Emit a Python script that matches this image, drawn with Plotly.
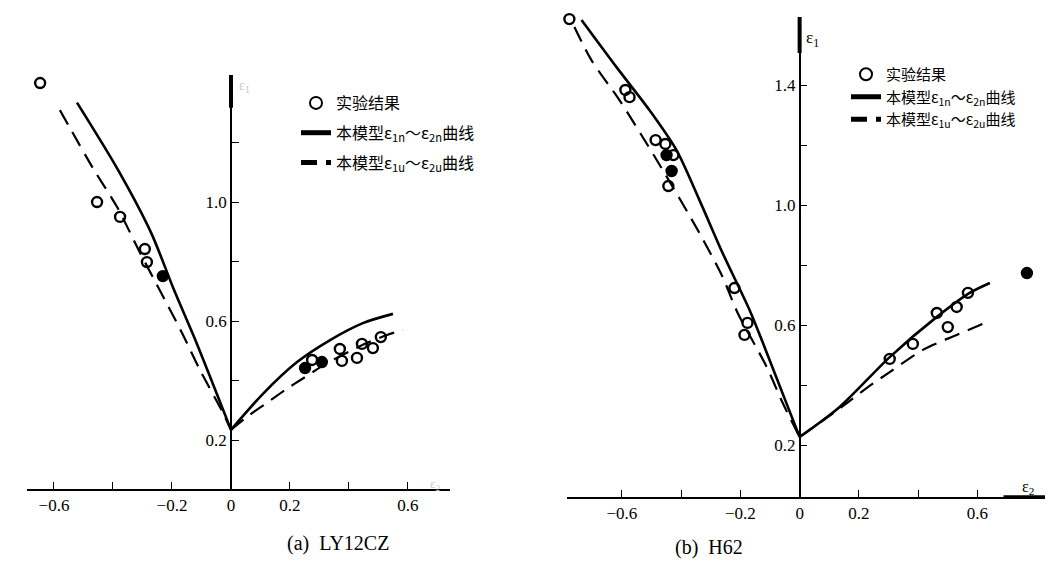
import plotly.graph_objects as go

W, H = 1057, 572

# ---------------- data: panel (a) LY12CZ ----------------
a_exp_x = [-0.647, -0.454, -0.376, -0.292, -0.285, -0.231,
           0.251, 0.275, 0.308, 0.369, 0.376, 0.427, 0.444, 0.481, 0.508]
a_exp_y = [1.400, 1.000, 0.950, 0.842, 0.798, 0.751,
           0.442, 0.469, 0.462, 0.506, 0.466, 0.476, 0.523, 0.509, 0.546]
a_exp_filled = [0, 0, 0, 0, 0, 1, 1, 0, 1, 0, 0, 0, 0, 0, 0]

a_solid_left_x = [-0.522, -0.383, -0.271, -0.193, -0.125, 0.0]
a_solid_left_y = [1.334, 1.108, 0.897, 0.704, 0.546, 0.234]
a_solid_right_x = [0.0, 0.110, 0.224, 0.336, 0.447, 0.549]
a_solid_right_y = [0.234, 0.357, 0.462, 0.536, 0.593, 0.624]

a_dash_left_x = [-0.580, -0.468, -0.386, -0.308, -0.166, -0.105, -0.027, 0.0]
a_dash_left_y = [1.309, 1.114, 0.983, 0.829, 0.560, 0.435, 0.291, 0.234]
a_dash_right_x = [0.0, 0.064, 0.122, 0.183, 0.241, 0.325, 0.447, 0.529, 0.583]
a_dash_right_y = [0.234, 0.285, 0.325, 0.368, 0.405, 0.458, 0.520, 0.553, 0.570]

# ---------------- data: panel (b) H62 ----------------
b_exp_x = [-0.777, -0.588, -0.574, -0.486, -0.453, -0.449, -0.426, -0.432, -0.443,
           -0.220, -0.176, -0.186, 0.304, 0.382, 0.463, 0.500, 0.530, 0.568, 0.767]
b_exp_y = [1.620, 1.384, 1.360, 1.217, 1.204, 1.167, 1.167, 1.114, 1.064,
           0.724, 0.608, 0.568, 0.488, 0.538, 0.641, 0.594, 0.661, 0.708, 0.774]
b_exp_filled = [0, 0, 0, 0, 0, 1, 0, 1, 0, 0, 0, 0, 0, 0, 0, 0, 0, 0, 1]

b_solid_left_x = [-0.736, -0.618, -0.507, -0.416, -0.338, -0.260, -0.169, -0.125, -0.044, 0.0]
b_solid_left_y = [1.617, 1.460, 1.317, 1.184, 1.017, 0.841, 0.651, 0.544, 0.339, 0.228]
b_solid_right_x = [0.0, 0.135, 0.304, 0.463, 0.574, 0.642]
b_solid_right_y = [0.228, 0.328, 0.494, 0.628, 0.708, 0.741]

b_dash_left_x = [-0.760, -0.703, -0.608, -0.534, -0.466, -0.338, -0.260, -0.209, -0.111, -0.057, 0.0]
b_dash_left_y = [1.594, 1.484, 1.350, 1.234, 1.124, 0.907, 0.761, 0.641, 0.461, 0.341, 0.228]
b_dash_right_x = [0.0, 0.142, 0.226, 0.304, 0.416, 0.530, 0.625]
b_dash_right_y = [0.228, 0.328, 0.391, 0.444, 0.518, 0.568, 0.608]

# ticks / labels
x_tickvals = [-0.6, -0.2, 0.0, 0.2, 0.6]
x_ticktext = ["−0.6", "−0.2", "0", "0.2", "0.6"]
x_minorvals = [-0.4, 0.4]
a_y_tickvals = [0.2, 0.6, 1.0]
a_y_ticktext = ["0.2", "0.6", "1.0"]
a_y_minorvals = [0.4, 0.8, 1.2]
b_y_tickvals = [0.2, 0.6, 1.0, 1.4]
b_y_ticktext = ["0.2", "0.6", "1.0", "1.4"]
b_y_minorvals = [0.4, 0.8, 1.2]

leg_exp = "实验结果"
leg_solid = "本模型ε<sub>1n</sub>～ε<sub>2n</sub>曲线"
leg_dash = "本模型ε<sub>1u</sub>～ε<sub>2u</sub>曲线"
cap_a = "(a)  LY12CZ"
cap_b = "(b)  H62"

# ---------------- layout geometry ----------------
a_xrange = [-0.6915, 0.7424]
a_yrange = [0.0353, 1.427]
b_xrange = [-0.785, 0.828]
b_yrange = [0.028, 1.627]
a_xdom = [27 / W, 450 / W]
a_ydom = [1 - 489 / H, 1 - 75 / H]
b_xdom = [567 / W, 1045 / W]
b_ydom = [1 - 497 / H, 1 - 17 / H]


def zero_pos(dom, rng):
    return dom[0] + (0 - rng[0]) / (rng[1] - rng[0]) * (dom[1] - dom[0])


SERIF = "Liberation Serif, DejaVu Serif, serif"
CJK = "Noto Sans CJK SC, sans-serif"

fig = go.Figure()


def join(lx, ly, rx, ry):
    return lx + [None] + rx, ly + [None] + ry


def add_panel(xa, ya, legend, ex, ey, ef, slx, sly, srx, sry, dlx, dly, drx, dry):
    sx, sy = join(slx, sly, srx, sry)
    dx, dy = join(dlx, dly, drx, dry)
    symbols = ["circle" if f else "circle-open" for f in ef]
    fig.add_trace(go.Scatter(
        x=ex, y=ey, mode="markers", name=leg_exp, xaxis=xa, yaxis=ya, legend=legend,
        cliponaxis=False,
        marker=dict(symbol=symbols, size=10, color="black", line=dict(width=2.4, color="black")),
    ))
    fig.add_trace(go.Scatter(
        x=sx, y=sy, mode="lines", name=leg_solid, xaxis=xa, yaxis=ya, legend=legend,
        line=dict(color="black", width=2.6, shape="spline", smoothing=0.8), connectgaps=False,
    ))
    fig.add_trace(go.Scatter(
        x=dx, y=dy, mode="lines", name=leg_dash, xaxis=xa, yaxis=ya, legend=legend,
        line=dict(color="black", width=2.2, dash="16px,9px", shape="spline", smoothing=0.8),
        connectgaps=False,
    ))


add_panel("x", "y", "legend", a_exp_x, a_exp_y, a_exp_filled,
          a_solid_left_x, a_solid_left_y, a_solid_right_x, a_solid_right_y,
          a_dash_left_x, a_dash_left_y, a_dash_right_x, a_dash_right_y)
add_panel("x2", "y2", "legend2", b_exp_x, b_exp_y, b_exp_filled,
          b_solid_left_x, b_solid_left_y, b_solid_right_x, b_solid_right_y,
          b_dash_left_x, b_dash_left_y, b_dash_right_x, b_dash_right_y)

tick_style = dict(ticks="inside", ticklen=7, tickwidth=1.4, tickcolor="black")
xcommon = dict(showline=True, linecolor="black", linewidth=1.6, showgrid=False, zeroline=False,
               tickmode="array", tickvals=x_tickvals, ticktext=x_ticktext,
               minor=dict(tickmode="array", tickvals=x_minorvals, showgrid=False, **tick_style),
               tickfont=dict(family=SERIF, size=17, color="black"), **tick_style)
ycommon = dict(showline=True, linecolor="black", linewidth=1.6, showgrid=False, zeroline=False,
               anchor="free", side="left", tickmode="array",
               tickfont=dict(family=SERIF, size=17, color="black"), **tick_style)

fig.update_layout(
    width=W, height=H, margin=dict(l=0, r=0, t=0, b=0),
    paper_bgcolor="white", plot_bgcolor="white",
    xaxis=dict(domain=a_xdom, range=a_xrange, anchor="y", **xcommon),
    yaxis=dict(domain=a_ydom, range=a_yrange, position=zero_pos(a_xdom, a_xrange),
               tickvals=a_y_tickvals, ticktext=a_y_ticktext,
               minor=dict(tickmode="array", tickvals=a_y_minorvals, showgrid=False, **tick_style),
               **ycommon),
    xaxis2=dict(domain=b_xdom, range=b_xrange, anchor="y2", **xcommon),
    yaxis2=dict(domain=b_ydom, range=b_yrange, position=zero_pos(b_xdom, b_xrange),
                tickvals=b_y_tickvals, ticktext=b_y_ticktext,
                minor=dict(tickmode="array", tickvals=b_y_minorvals, showgrid=False, **tick_style),
                **ycommon),
    legend=dict(x=296 / W, y=1 - 86 / H, xanchor="left", yanchor="top",
                bgcolor="rgba(0,0,0,0)", font=dict(family=CJK, size=16, color="black"),
                tracegroupgap=6, itemsizing="constant"),
    legend2=dict(x=846 / W, y=1 - 58 / H, xanchor="left", yanchor="top",
                 bgcolor="rgba(0,0,0,0)", font=dict(family=CJK, size=15, color="black"),
                 tracegroupgap=0, itemsizing="constant"),
    showlegend=True,
)

# each legend item in its own group so the gap between items can be set
for i, tr in enumerate(fig.data):
    tr.legendgroup = "g%d" % i

# axis-end arrows (thick segments at the ends of the axes)
fig.add_shape(type="line", xref="x", yref="y", x0=0, x1=0,
              y0=a_yrange[1] - 0.11, y1=a_yrange[1], line=dict(color="black", width=4))
fig.add_shape(type="line", xref="x2", yref="y2", x0=0, x1=0,
              y0=b_yrange[1] - 0.12, y1=b_yrange[1], line=dict(color="black", width=4))
fig.add_shape(type="line", xref="x2", yref="y2", x0=b_xrange[1] - 0.14, x1=b_xrange[1],
              y0=b_yrange[0], y1=b_yrange[0], line=dict(color="black", width=3.5))

# axis titles
fig.add_annotation(x=0, y=1.555, xref="x2", yref="y2", text="ε<sub>1</sub>", showarrow=False,
                   xanchor="left", xshift=4, font=dict(family=SERIF, size=17, color="black"))
fig.add_annotation(x=0.77, y=0.06, xref="x2", yref="y2", text="ε<sub>2</sub>", showarrow=False,
                   font=dict(family=SERIF, size=16, color="black"))
fig.add_annotation(x=0, y=1.39, xref="x", yref="y", text="ε<sub>1</sub>", showarrow=False,
                   xanchor="left", xshift=6, font=dict(family=SERIF, size=14, color="#c8c8c8"))
fig.add_annotation(x=0.69, y=0.05, xref="x", yref="y", text="ε<sub>2</sub>", showarrow=False,
                   font=dict(family=SERIF, size=13, color="#c8c8c8"))

# captions
fig.add_annotation(x=285 / W, y=1 - 557 / H, xref="paper", yref="paper", text=cap_a,
                   showarrow=False, font=dict(family=SERIF, size=20, color="black"))
fig.add_annotation(x=745 / W, y=1 - 561 / H, xref="paper", yref="paper", text=cap_b,
                   showarrow=False, font=dict(family=SERIF, size=20, color="black"))

fig.write_html("out.html", config={"displayModeBar": False},
               post_script="document.body.style.margin='0';document.body.style.overflow='hidden';")
